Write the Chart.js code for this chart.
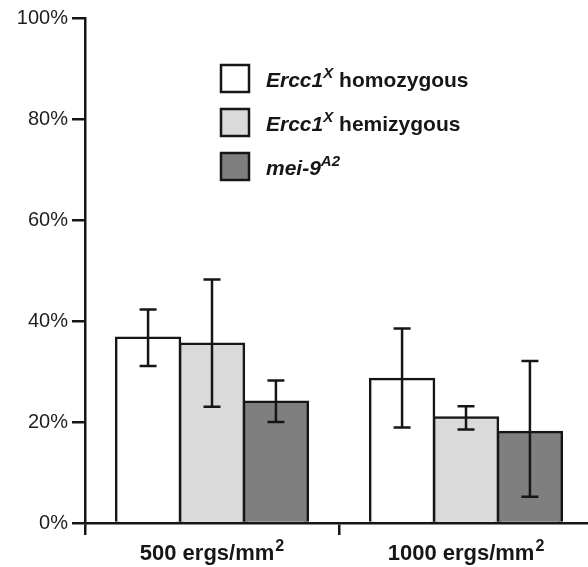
<!DOCTYPE html>
<html><head><meta charset="utf-8">
<script src="https://cdn.jsdelivr.net/npm/chart.js@4"></script>
<style>
html,body{margin:0;padding:0;background:#fff;overflow:hidden}
#wrap{position:absolute;left:0;top:0;width:593px;height:567px}
</style>
</head><body>
<div id="wrap"><canvas id="c"></canvas></div>
<script>
// ---- data ----
const categories = ["500 ergs/mm²", "1000 ergs/mm²"];
const homozygous = [36.7, 28.5];
const homozygousLow = [31.1, 18.9];
const homozygousHigh = [42.3, 38.5];
const hemizygous = [35.5, 20.9];
const hemizygousLow = [23.0, 18.5];
const hemizygousHigh = [48.2, 23.1];
const mei9 = [24.0, 18.0];
const mei9Low = [20.0, 5.2];
const mei9High = [28.2, 32.1];
const yTickValues = [0, 20, 40, 60, 80, 100];
// legend labels as rich-text parts: [text, italic, superscript]
const legendHomozygous = [["Ercc1", true, false], ["X", true, true], [" homozygous", false, false]];
const legendHemizygous = [["Ercc1", true, false], ["X", true, true], [" hemizygous", false, false]];
const legendMei9 = [["mei-9", true, false], ["A2", true, true]];

const FONT = "'Liberation Sans', Arial, Helvetica, sans-serif";
const INK = '#161616';

const errorBars = {
  id: 'errorBars',
  afterDatasetsDraw(chart) {
    const ctx = chart.ctx, y = chart.scales.y;
    chart.data.datasets.forEach((ds, i) => {
      const meta = chart.getDatasetMeta(i);
      meta.data.forEach((bar, j) => {
        const x = bar.x;
        const yl = y.getPixelForValue(ds.errLow[j]);
        const yh = y.getPixelForValue(ds.errHigh[j]);
        ctx.save();
        ctx.strokeStyle = INK;
        ctx.lineWidth = 2.5;
        ctx.beginPath();
        ctx.moveTo(x, yl); ctx.lineTo(x, yh);
        ctx.moveTo(x - 8.5, yl); ctx.lineTo(x + 8.5, yl);
        ctx.moveTo(x - 8.5, yh); ctx.lineTo(x + 8.5, yh);
        ctx.stroke();
        ctx.restore();
      });
    });
  }
};

// x category labels with a real superscript "2"
const xLabels = {
  id: 'xLabels',
  afterDraw(chart) {
    const ctx = chart.ctx, xs = chart.scales.x;
    const base = xs.top + 37;
    chart.data.labels.forEach((lab, i) => {
      const cx = xs.getPixelForValue(i);
      const parts = lab.split('²');
      ctx.save();
      ctx.fillStyle = INK;
      ctx.textBaseline = 'alphabetic';
      ctx.font = 'bold 22px ' + FONT;
      const w1 = ctx.measureText(parts[0]).width;
      ctx.font = 'bold 16px ' + FONT;
      const w2 = lab.includes('²') ? ctx.measureText('2').width + 1 : 0;
      let tx = cx - (w1 + w2) / 2;
      ctx.font = 'bold 22px ' + FONT;
      ctx.fillText(parts[0], tx, base);
      if (w2) {
        ctx.font = 'bold 16px ' + FONT;
        ctx.fillText('2', tx + w1 + 1, base - 9);
      }
      ctx.restore();
    });
  }
};

const richLegend = {
  id: 'richLegend',
  afterDraw(chart) {
    const ctx = chart.ctx;
    const x0 = 221, boxW = 28, boxH = 27, gap = 44, top0 = 65;
    chart.data.datasets.forEach((ds, i) => {
      const top = top0 + i * gap;
      ctx.save();
      ctx.fillStyle = ds.backgroundColor;
      ctx.strokeStyle = INK;
      ctx.lineWidth = 2.5;
      ctx.fillRect(x0, top, boxW, boxH);
      ctx.strokeRect(x0, top, boxW, boxH);
      let tx = x0 + boxW + 17;
      const base = top + boxH / 2 + 8;
      ctx.fillStyle = INK;
      ctx.textBaseline = 'alphabetic';
      ds.legendParts.forEach(([t, it, sup]) => {
        const size = sup ? 15 : 21;
        ctx.font = (it ? 'italic ' : '') + 'bold ' + size + 'px ' + FONT;
        ctx.fillText(t, tx, sup ? base - 9 : base);
        tx += ctx.measureText(t).width + (sup ? 0 : 0);
      });
      ctx.restore();
    });
  }
};

new Chart(document.getElementById('c'), {
  type: 'bar',
  data: {
    labels: categories,
    datasets: [
      { label: 'Ercc1X homozygous', data: homozygous, errLow: homozygousLow, errHigh: homozygousHigh,
        backgroundColor: '#ffffff', legendParts: legendHomozygous },
      { label: 'Ercc1X hemizygous', data: hemizygous, errLow: hemizygousLow, errHigh: hemizygousHigh,
        backgroundColor: '#dadada', legendParts: legendHemizygous },
      { label: 'mei-9A2', data: mei9, errLow: mei9Low, errHigh: mei9High,
        backgroundColor: '#7f7f7f', legendParts: legendMei9 }
    ]
  },
  options: {
    responsive: true,
    maintainAspectRatio: false,
    animation: false,
    layout: { padding: { top: 18, right: 0, left: 0, bottom: 0 } },
    datasets: {
      bar: {
        categoryPercentage: 0.755,
        barPercentage: 1.0,
        borderColor: INK,
        borderWidth: 2.5,
        inflateAmount: 1.25
      }
    },
    plugins: {
      legend: { display: false },
      tooltip: { enabled: false }
    },
    scales: {
      x: {
        afterFit(s) { s.height = 44; },
        grid: { offset: true, drawOnChartArea: false, drawTicks: true, tickLength: 12, lineWidth: 2.5, color: INK },
        border: { display: true, color: INK, width: 2.5 },
        ticks: { display: false }
      },
      y: {
        min: 0, max: 100,
        afterFit(s) { s.width = 85; },
        afterBuildTicks(s) { s.ticks = yTickValues.map(v => ({ value: v })); },
        grid: { drawOnChartArea: false, drawTicks: true, tickLength: 13, lineWidth: 2.5, color: INK },
        border: { display: true, color: INK, width: 2.5 },
        ticks: { color: '#1e1e1e', padding: 4, font: { family: FONT, size: 20 }, callback: v => v + '%' }
      }
    }
  },
  plugins: [errorBars, xLabels, richLegend]
});
</script>
</body></html>
